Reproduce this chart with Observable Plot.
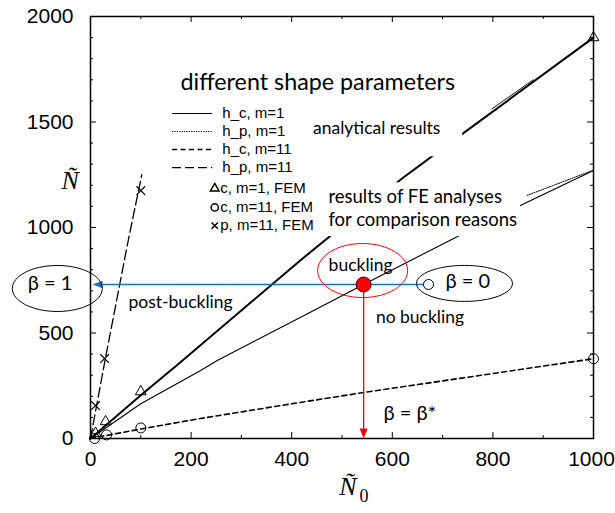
<!DOCTYPE html>
<html><head><meta charset="utf-8">
<script src="https://cdn.jsdelivr.net/npm/d3@7"></script>
<script src="https://cdn.jsdelivr.net/npm/@observablehq/plot@0.6"></script>
<style>body{margin:0;background:#fff}</style>
</head><body><div id="chart"></div>
<script>
// ---- data ----
const xTicks = [0, 200, 400, 600, 800, 1000];
const yTicks = [0, 500, 1000, 1500, 2000];
const xMinorTicks = [100, 300, 500, 700, 900];
const yMinorTicks = [100, 200, 300, 400, 600, 700, 800, 900, 1100, 1200, 1300, 1400, 1600, 1700, 1800, 1900];

// analytical curves [N0, N]
const hcM1 = [[0,0],[100,205],[173,350],[417,844],[473,953],[622,1237],[740,1445],[1000,1900]];
const hpM1 = [[0,0],[100,165],[219,322],[252,370],[417,573],[543,730],[722,948],[868,1120],[1000,1270]];
const hpM1Upper = [[798,1562],[880,1700]];
const hpM1Dotted = [[868,1152],[1000,1272]];
const hcM11 = [[0,0],[100,45],[219,95],[417,171],[543,218],[1000,378]];
const hpM11 = [[0,0],[30,384],[75,938],[102,1250]];

// FEM results
const femCm1 = [[10,25],[30,80],[100,222],[1000,1900]];
const femCm11 = [[8,0],[32,17],[100,50],[1000,378]];
const femPm11 = [[10,156],[28,379],[100,1175]];

// legend
const legendLines = ["h_c, m=1", "h_p, m=1", "h_c, m=11", "h_p, m=11"];
const legendFem = ["c, m=1, FEM", "c, m=11, FEM", "p, m=11, FEM"];

// buckling annotation
const bucklingPoint = [543, 730];
const beta0Point = [672, 730];

// ---- layout ----
const W = 615, H = 513, mL = 90, mR = 22, mT = 16, mB = 75;
const FW = W - mL - mR, FH = H - mT - mB;
const CAL = "Lato, 'Open Sans', sans-serif";
const HEL = "'Liberation Sans', Arial, sans-serif";
const SER = "'Liberation Serif', 'DejaVu Serif', serif";
const BLUE = "#1a6fc4", RED = "#ff0000";

function ellipse(rx, ry) {
  const k = 0.5523, kx = rx * k, ky = ry * k;
  return {draw(c) {
    c.moveTo(rx, 0);
    c.bezierCurveTo(rx, ky, kx, ry, 0, ry);
    c.bezierCurveTo(-kx, ry, -rx, ky, -rx, 0);
    c.bezierCurveTo(-rx, -ky, -kx, -ry, 0, -ry);
    c.bezierCurveTo(kx, -ry, rx, -ky, rx, 0);
    c.closePath();
  }};
}
const headDown = {draw(c) { c.moveTo(0, 0); c.lineTo(-4, -10); c.lineTo(4, -10); c.closePath(); }};
const headLeft = {draw(c) { c.moveTo(0, 0); c.lineTo(10, -3.8); c.lineTo(10, 3.8); c.closePath(); }};

const lx1 = 163, lx2 = 243, ltx = 262;
const legY = [1540, 1455, 1370, 1284];
const femY = [1185, 1095, 1009];
const legendStyles = [
  {strokeWidth: 1.1},
  {strokeWidth: 1, strokeDasharray: "1.2,1.2"},
  {strokeWidth: 1.4, strokeDasharray: "5,3.5"},
  {strokeWidth: 1.3, strokeDasharray: "9,4"}
];
const fmt = d => String(d);

const chart = Plot.plot({
  width: W, height: H,
  marginLeft: mL, marginRight: mR, marginTop: mT, marginBottom: mB,
  x: {domain: [0, 1000], axis: null},
  y: {domain: [0, 2000], axis: null},
  style: {background: "white", fontFamily: HEL},
  marks: [
    // curves
    Plot.line(hcM1, {x: d => d[0], y: d => d[1], stroke: "black", strokeWidth: 2}),
    Plot.line(hpM1, {x: d => d[0], y: d => d[1], stroke: "black", strokeWidth: 1.1}),
    Plot.line(hpM1Upper, {x: d => d[0], y: d => d[1], stroke: "black", strokeWidth: 0.9}),
    Plot.line(hpM1Dotted, {x: d => d[0], y: d => d[1], stroke: "black", strokeWidth: 1, strokeDasharray: "1.2,1.2"}),
    Plot.line(hcM11, {x: d => d[0], y: d => d[1], stroke: "black", strokeWidth: 1.6, strokeDasharray: "5,3.5"}),
    Plot.line(hpM11, {x: d => d[0], y: d => d[1], stroke: "black", strokeWidth: 1.3, strokeDasharray: "10,4"}),
    // white text boxes covering curves
    Plot.rect([0], {x1: 417, x2: 740, y1: 1335, y2: 1555, fill: "white"}),
    Plot.rect([0], {x1: 461, x2: 855, y1: 957, y2: 1212, fill: "white"}),
    // FEM markers
    Plot.dot(femCm1, {x: d => d[0], y: d => d[1], symbol: "triangle", r: 4, stroke: "black", fill: "none", strokeWidth: 1}),
    Plot.dot(femCm11, {x: d => d[0], y: d => d[1], symbol: "circle", r: 5, stroke: "black", fill: "none", strokeWidth: 1}),
    Plot.dot(femPm11, {x: d => d[0], y: d => d[1], symbol: "times", r: 4, stroke: "black", strokeWidth: 1.2}),
    // frame + ticks
    Plot.frame({stroke: "black", strokeWidth: 1.5}),
    Plot.ruleX(xTicks, {insetTop: FH - 6, stroke: "black"}),
    Plot.ruleX(xMinorTicks, {insetTop: FH - 3, stroke: "black"}),
    Plot.ruleX(xTicks, {insetBottom: FH - 6, stroke: "black"}),
    Plot.ruleX(xMinorTicks, {insetBottom: FH - 3, stroke: "black"}),
    Plot.ruleY(yTicks, {insetRight: FW - 6, stroke: "black"}),
    Plot.ruleY(yMinorTicks, {insetRight: FW - 3, stroke: "black"}),
    Plot.ruleY(yTicks, {insetLeft: FW - 6, stroke: "black"}),
    Plot.ruleY(yMinorTicks, {insetLeft: FW - 3, stroke: "black"}),
    // tick labels
    Plot.text(xTicks.slice(0, -1), {x: d => d, text: fmt, frameAnchor: "bottom", dy: 27, fontSize: 21, fontFamily: HEL, fill: "black"}),
    Plot.text(xTicks.slice(-1), {x: d => d, text: fmt, frameAnchor: "bottom", dx: -2, dy: 27, fontSize: 21, fontFamily: HEL, fill: "black"}),
    Plot.text(yTicks, {y: d => d, text: fmt, frameAnchor: "left", dx: -17, textAnchor: "end", fontSize: 21, fontFamily: HEL, fill: "black"}),
    // axis titles
    Plot.text(["Ñ"], {frameAnchor: "top-left", dx: -29, dy: 154, fontSize: 26, fontStyle: "italic", fontFamily: SER}),
    Plot.text(["Ñ"], {frameAnchor: "bottom", dx: 6, dy: 56, fontSize: 26, fontStyle: "italic", fontFamily: SER}),
    Plot.text(["0"], {frameAnchor: "bottom", dx: 22, dy: 63, fontSize: 18, fontFamily: SER}),
    // legend
    Plot.text(["different shape parameters"], {x: 179, y: 1687, textAnchor: "start", fontSize: 23.3, fontFamily: CAL}),
    ...legendLines.map((t, i) => Plot.ruleY([legY[i]], {x1: lx1, x2: lx2, stroke: "black", ...legendStyles[i]})),
    Plot.text(legendLines, {x: ltx, y: (d, i) => legY[i], textAnchor: "start", fontSize: 15, fontFamily: HEL}),
    Plot.dot([femY[0]], {x: 247, y: d => d, symbol: "triangle", r: 3.2, stroke: "black", fill: "none"}),
    Plot.dot([femY[1]], {x: 247, y: d => d, symbol: "circle", r: 3.6, stroke: "black", fill: "none"}),
    Plot.dot([femY[2]], {x: 247, y: d => d, symbol: "times", r: 3, stroke: "black"}),
    Plot.text(legendFem, {x: 258, y: (d, i) => femY[i], textAnchor: "start", fontSize: 15, fontFamily: HEL}),
    // annotations
    Plot.text(["analytical results"], {x: 569, y: 1469, fontSize: 17.5, fontFamily: CAL}),
    Plot.text(["results of FE analyses", "for comparison reasons"], {x: 473, y: (d, i) => [1142, 1033][i], textAnchor: "start", fontSize: 18.5, fontFamily: CAL}),
    Plot.text(["buckling"], {x: 537, y: 820, fontSize: 17.5, fontFamily: CAL}),
    Plot.text(["no buckling"], {x: 655, y: 573, fontSize: 17.5, fontFamily: CAL}),
    Plot.text(["post-buckling"], {x: 179, y: 645, fontSize: 17.5, fontFamily: CAL}),
    // beta annotations
    Plot.ruleY([beta0Point[1]], {x1: 12, x2: beta0Point[0], stroke: BLUE, strokeWidth: 1.5}),
    Plot.dot([0], {x: 4, y: beta0Point[1], symbol: headLeft, fill: BLUE, stroke: "none"}),
    Plot.ruleX([bucklingPoint[0]], {y1: 20, y2: bucklingPoint[1], stroke: RED, strokeWidth: 1.3}),
    Plot.dot([0], {x: bucklingPoint[0], y: 0, symbol: headDown, fill: RED, stroke: "none"}),
    Plot.dot([0], {x: 541, y: 796, symbol: ellipse(45, 27), stroke: RED, fill: "none", strokeWidth: 1}),
    Plot.dot([0], {x: -66, y: 711, symbol: ellipse(45, 23), stroke: "black", fill: "none", strokeWidth: 1}),
    Plot.dot([0], {x: 743.5, y: 735, symbol: ellipse(48, 18), stroke: "black", fill: "none", strokeWidth: 1}),
    Plot.dot([beta0Point], {x: d => d[0], y: d => d[1], r: 5, stroke: "black", fill: "white", strokeWidth: 1}),
    Plot.dot([bucklingPoint], {x: d => d[0], y: d => d[1], r: 7.5, stroke: "#400", fill: RED, strokeWidth: 1}),
    Plot.text(["β = 1"], {x: -80.5, y: 735, fontSize: 20, fontFamily: CAL}),
    Plot.text(["β = 0"], {x: 750, y: 744, fontSize: 20, fontFamily: CAL}),
    Plot.text(["β = β*"], {x: 635, y: 118, fontSize: 20, fontFamily: CAL})
  ]
});
document.getElementById("chart").appendChild(chart);
</script>
</body></html>
